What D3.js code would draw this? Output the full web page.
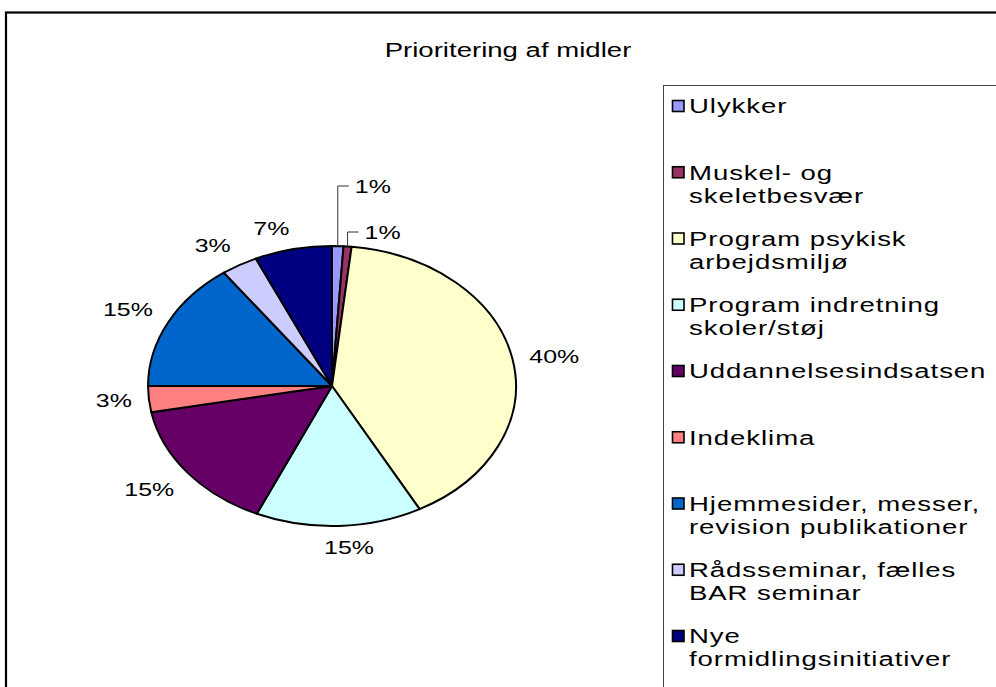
<!DOCTYPE html>
<html>
<head>
<meta charset="utf-8">
<script src="https://cdn.jsdelivr.net/npm/d3@7"></script>
<style>
  html, body { margin: 0; padding: 0; background: #fff; }
  svg { display: block; }
  text { font-family: "Liberation Sans", Arial, sans-serif; fill: #000; }
</style>
</head>
<body>
<svg id="chart" width="996" height="687"></svg>
<script>
// ---- data ----
const title = "Prioritering af midler";
const categories = [
  "Ulykker",
  "Muskel- og skeletbesvær",
  "Program psykisk arbejdsmiljø",
  "Program indretning skoler/støj",
  "Uddannelsesindsatsen",
  "Indeklima",
  "Hjemmesider, messer, revision publikationer",
  "Rådsseminar, fælles BAR seminar",
  "Nye formidlingsinitiativer"
];
const legendLines = [
  ["Ulykker"],
  ["Muskel- og", "skeletbesvær"],
  ["Program psykisk", "arbejdsmiljø"],
  ["Program indretning", "skoler/støj"],
  ["Uddannelsesindsatsen"],
  ["Indeklima"],
  ["Hjemmesider, messer,", "revision publikationer"],
  ["Rådsseminar, fælles", "BAR seminar"],
  ["Nye", "formidlingsinitiativer"]
];
const values = [1.0, 0.7, 40.4, 14.6, 15.3, 3.0, 15.0, 3.2, 6.8];
const colors = ["#9999FF", "#993366", "#FFFFCC", "#CCFFFF", "#660066", "#FF8080", "#0066CC", "#CCCCFF", "#000080"];

// ---- layout ----
const W = 996, H = 687;
const SX = 1.314;            // horizontal stretch of the whole picture
const cx = 332, cy = 386, R = 140;
const svg = d3.select("#chart");

svg.append("rect").attr("width", W).attr("height", H).attr("fill", "#fff");

// outer frame
svg.append("rect")
  .attr("x", 6).attr("y", 12.5).attr("width", 1200).attr("height", 900)
  .attr("fill", "none").attr("stroke", "#000").attr("stroke-width", 2.2);

// title
svg.append("g").attr("transform", `translate(508,50) scale(${SX},1)`)
  .append("text").attr("text-anchor", "middle").attr("dy", "0.35em")
  .style("font-size", "21px").text(title);

// pie
const total = d3.sum(values);
const pie = d3.pie().sort(null).value(d => d)(values);
const arc = d3.arc().innerRadius(0).outerRadius(R);
const color = d3.scaleOrdinal().domain(categories).range(colors);

const pieG = svg.append("g").attr("transform", `translate(${cx},${cy}) scale(${SX},1)`);
pieG.selectAll("path").data(pie).enter().append("path")
  .attr("d", arc)
  .attr("fill", (d, i) => color(categories[i]))
  .attr("stroke", "#000").attr("stroke-width", 2)
  .attr("vector-effect", "non-scaling-stroke")
  .attr("stroke-linejoin", "round");

// data labels (label box corner nearest the pie sits on a circle of radius R+gap)
const fmt = v => Math.round(v / total * 100) + "%";
const gap = 13, lh = 16;
const smallLifts = [60, 14];
let smallIdx = 0;
const blendX = v => Math.sign(v) * Math.min(1, Math.abs(v) / 0.1);
const blendY = v => Math.sign(v) * Math.max(0, Math.min(1, (Math.abs(v) - 0.2) / 0.3));
pie.forEach((d, i) => {
  const a = (d.startAngle + d.endAngle) / 2;
  const s = Math.sin(a), c = Math.cos(a);
  const share = d.value / total * 100;
  if (share < 2) {
    const lift = smallLifts[smallIdx++] || 20;
    const px = cx + SX * R * s, py = cy - R * c;
    const ly = cy - R - lift;
    svg.append("polyline")
      .attr("points", `${px},${py} ${px},${ly} ${px + 11},${ly}`)
      .attr("fill", "none").attr("stroke", "#333").attr("stroke-width", 1);
    svg.append("g").attr("transform", `translate(${px + 17},${ly}) scale(${SX},1)`)
      .append("text").attr("dy", "0.35em").style("font-size", "19px").text(fmt(d.value));
  } else {
    const g = svg.append("g");
    const t = g.append("text").attr("text-anchor", "middle").attr("dy", "0.35em")
      .style("font-size", "19px").text(fmt(d.value));
    const w = t.node().getComputedTextLength();
    const x = cx + SX * ((R + gap) * s + (w / 2) * blendX(s));
    const y = cy - ((R + gap) * c + (lh / 2) * blendY(c));
    g.attr("transform", `translate(${x},${y}) scale(${SX},1)`);
  }
});

// legend
svg.append("rect")
  .attr("x", 663.5).attr("y", 85.5).attr("width", 600).attr("height", 800)
  .attr("fill", "none").attr("stroke", "#444").attr("stroke-width", 1);

const ly = d3.scaleLinear().domain([0, categories.length - 1]).range([106, 636]);
const lineH = 23;
categories.forEach((cat, i) => {
  const y0 = ly(i);
  svg.append("rect")
    .attr("x", 672.5).attr("y", y0 - 5.5).attr("width", 11.5).attr("height", 11)
    .attr("fill", color(cat)).attr("stroke", "#000").attr("stroke-width", 1.6);
  const g = svg.append("g").attr("transform", `translate(689,${y0}) scale(${SX},1)`);
  const t = g.append("text").style("font-size", "21px").style("letter-spacing", "0.7px");
  legendLines[i].forEach((ln, j) => {
    t.append("tspan").attr("x", 0).attr("y", j * lineH).attr("dy", "0.35em").text(ln);
  });
});
</script>
</body>
</html>
